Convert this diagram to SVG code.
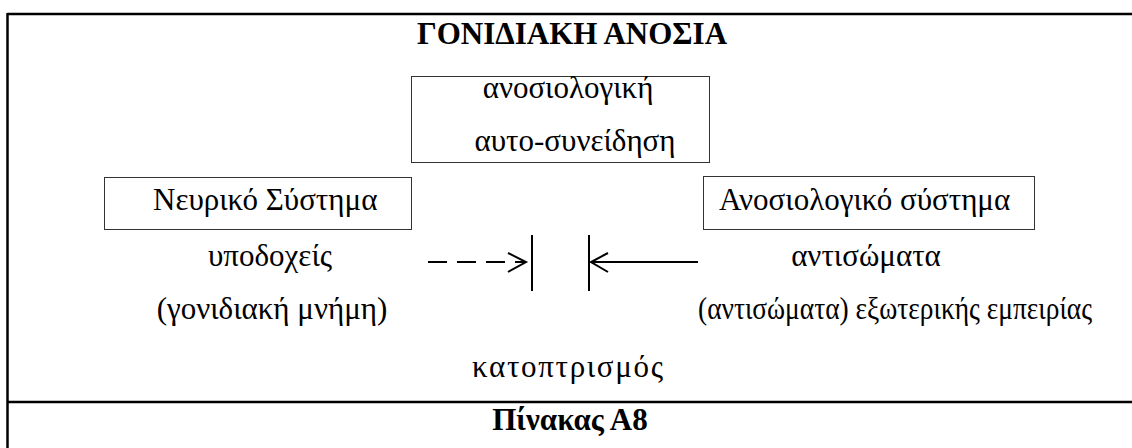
<svg xmlns="http://www.w3.org/2000/svg" width="1132" height="448" viewBox="0 0 1132 448">
<style>
.t{font-family:"Liberation Serif","Times New Roman",serif;font-size:31px;fill:#000}
.b{font-family:"Liberation Serif","Times New Roman",serif;font-weight:bold;font-size:31px;fill:#000}
.box{fill:none;stroke:#333;stroke-width:1}
.frame{stroke:#000;stroke-width:2.5;fill:none}
.ar{stroke:#000;stroke-width:2;fill:none}
</style>
<rect width="1132" height="448" fill="#fff"/>
<g id="frame">
<line class="frame" x1="7.5" y1="14" x2="1132" y2="14"/>
<line class="frame" x1="7.5" y1="13" x2="7.5" y2="448"/>
<line class="frame" x1="7.5" y1="402" x2="1132" y2="402"/>
</g>
<g id="title"><text class="b" x="572" y="44" text-anchor="middle">ΓΟΝΙΔΙΑΚΗ ΑΝΟΣΙΑ</text></g>
<g id="node-self">
<rect class="box" x="411.5" y="76.5" width="298" height="86"/>
<text class="t" x="568" y="98" text-anchor="middle">ανοσιολογική</text>
<text class="t" x="575" y="151" text-anchor="middle">αυτο-συνείδηση</text>
</g>
<g id="node-nervous">
<rect class="box" x="104.5" y="177.5" width="307" height="52"/>
<text class="t" x="153" y="210">Νευρικό Σύστημα</text>
<text class="t" x="270" y="266" text-anchor="middle">υποδοχείς</text>
<text class="t" x="272" y="319" text-anchor="middle">(γονιδιακή μνήμη)</text>
</g>
<g id="node-immune">
<rect class="box" x="703.5" y="176.5" width="331" height="53"/>
<text class="t" x="719" y="210">Ανοσιολογικό σύστημα</text>
<text class="t" x="866" y="266" text-anchor="middle">αντισώματα</text>
<text class="t" x="698" y="319" font-size="27.5" textLength="394" lengthAdjust="spacingAndGlyphs">(αντισώματα) εξωτερικής εμπειρίας</text>
</g>
<g id="mirror"><text class="t" x="472" y="377" textLength="191" lengthAdjust="spacing">κατοπτρισμός</text></g>
<g id="connectors">
<line class="ar" x1="428" y1="262" x2="526" y2="262" stroke-dasharray="19 10"/>
<polyline class="ar" points="508,253 526,262 508,272"/>
<line class="ar" x1="532" y1="235" x2="532" y2="291"/>
<line class="ar" x1="589" y1="235" x2="589" y2="291"/>
<line class="ar" x1="591" y1="262" x2="698" y2="262"/>
<polyline class="ar" points="608,253 591,262 608,272"/>
</g>
<g id="caption"><text class="b" x="570" y="430" text-anchor="middle">Πίνακας Α8</text></g>
</svg>
